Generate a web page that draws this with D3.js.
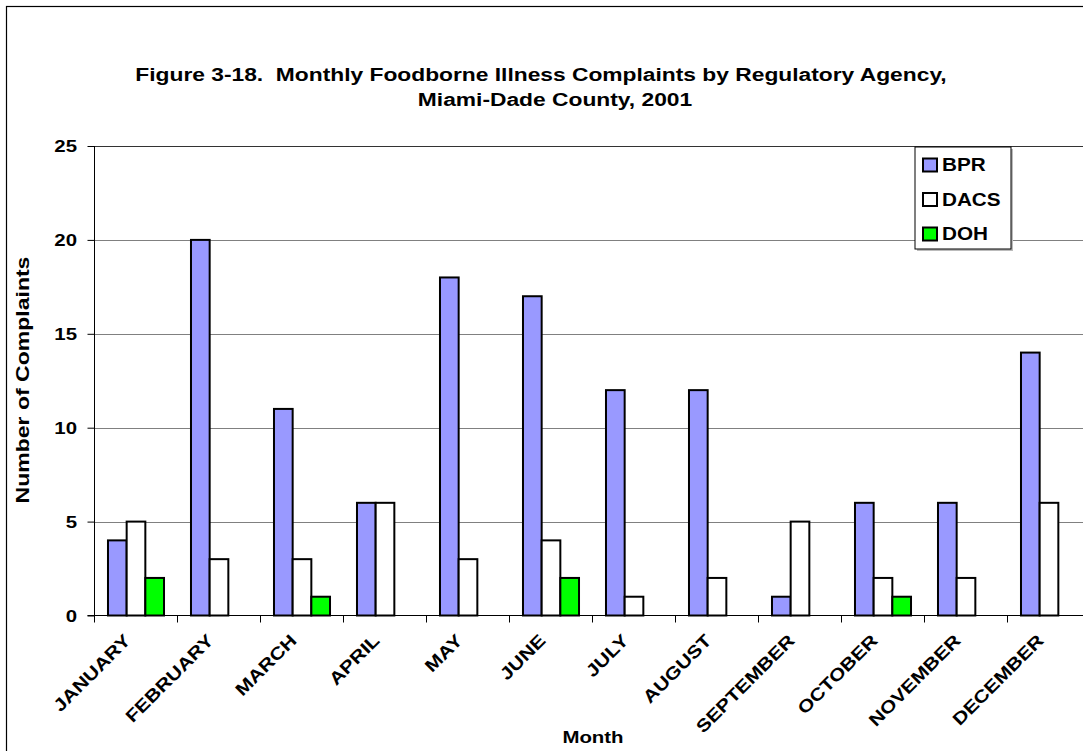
<!DOCTYPE html>
<html>
<head>
<meta charset="utf-8">
<script src="https://cdnjs.cloudflare.com/ajax/libs/d3/7.8.5/d3.min.js"></script>
<style>
  body { margin: 0; background: #fff; }
  text { font-family: Arial, "Liberation Sans", sans-serif; font-weight: bold; fill: #000; white-space: pre; }
</style>
</head>
<body>
<svg id="chart" width="1083" height="751"></svg>
<script>
// data
var months = ['JANUARY', 'FEBRUARY', 'MARCH', 'APRIL', 'MAY', 'JUNE', 'JULY',
  'AUGUST', 'SEPTEMBER', 'OCTOBER', 'NOVEMBER', 'DECEMBER'];
var agencies = ['BPR', 'DACS', 'DOH'];
var bpr = [4, 20, 11, 6, 18, 17, 12, 12, 1, 6, 6, 14];
var dacs = [5, 3, 3, 6, 3, 4, 1, 2, 5, 2, 2, 6];
var doh = [2, 0, 1, 0, 0, 2, 0, 0, 0, 1, 0, 0];
var yTicks = [0, 5, 10, 15, 20, 25];

var colors = {BPR: '#9999ff', DACS: '#ffffff', DOH: '#00ff00'};
var series = {BPR: bpr, DACS: dacs, DOH: doh};

// the original's text renders wider than Liberation Sans, stretch along the baseline
var stretch = 1.2;

var svg = d3.select('#chart');

// outer frame (runs off the right/bottom of the picture)
svg.append('rect')
  .attr('x', 6.5).attr('y', 6.5)
  .attr('width', 1120).attr('height', 800)
  .attr('fill', '#fff').attr('stroke', '#000').attr('stroke-width', 1.2);

// plot area
var plotLeft = 94.5, plotRight = 1090.5, plotTop = 146, plotBottom = 615.5;

var x = d3.scaleBand().domain(months).range([plotLeft, plotRight]).paddingInner(0.325).paddingOuter(0.1625);
var xs = d3.scaleBand().domain(agencies).range([0, x.bandwidth()]);
var y = d3.scaleLinear().domain([0, 25]).range([plotBottom, plotTop]);

function label(sel, px, py, rot, s) {
  return sel.attr('transform', 'translate(' + px + ',' + py + ') rotate(' + rot + ') scale(' + s + ',1)');
}

// title
label(svg.append('text'), 541, 81, 0, 1.2)
  .attr('text-anchor', 'middle')
  .style('font-size', '19px')
  .text('Figure 3-18.  Monthly Foodborne Illness Complaints by Regulatory Agency,');
label(svg.append('text'), 555, 106, 0, 1.2)
  .attr('text-anchor', 'middle')
  .style('font-size', '19px')
  .text('Miami-Dade County, 2001');

// gridlines
svg.append('g').selectAll('line')
  .data(yTicks.filter(function(d) { return d > 0; }))
  .enter().append('line')
  .attr('x1', plotLeft).attr('x2', plotRight)
  .attr('y1', function(d) { return Math.round(y(d)) + 0.5; })
  .attr('y2', function(d) { return Math.round(y(d)) + 0.5; })
  .attr('stroke', function(d) { return d == 25 ? '#333' : '#808080'; })
  .attr('stroke-width', 1.2);

// y axis
var yAxis = d3.axisLeft(y).tickValues(yTicks).tickSize(7).tickFormat('');
var gy = svg.append('g').attr('transform', 'translate(' + plotLeft + ',0)').call(yAxis);
gy.select('.domain').attr('stroke', '#000').attr('d', 'M0,' + plotTop + 'V' + plotBottom);
gy.selectAll('.tick line').attr('stroke', '#000');
svg.append('g').selectAll('text')
  .data(yTicks)
  .enter().append('text')
  .attr('transform', function(d) { return 'translate(77,' + y(d) + ') scale(' + stretch + ',1)'; })
  .attr('text-anchor', 'end')
  .attr('dy', '0.36em')
  .style('font-size', '17px')
  .text(function(d) { return d; });

// x axis: ticks at category boundaries
var gx = svg.append('g');
gx.append('line')
  .attr('x1', plotLeft - 7).attr('x2', plotRight)
  .attr('y1', plotBottom).attr('y2', plotBottom)
  .attr('stroke', '#000');
var step = x.step();
gx.selectAll('line.tk')
  .data(d3.range(months.length + 1))
  .enter().append('line').attr('class', 'tk')
  .attr('x1', function(i) { return plotLeft + i * step; })
  .attr('x2', function(i) { return plotLeft + i * step; })
  .attr('y1', plotBottom).attr('y2', plotBottom + 7)
  .attr('stroke', '#000');

gx.selectAll('text')
  .data(months)
  .enter().append('text')
  .attr('transform', function(d) {
    var cx = x(d) + x.bandwidth() / 2;
    return 'translate(' + (cx - 13) + ',' + 633 + ') rotate(-45) scale(' + stretch + ',1)';
  })
  .attr('text-anchor', 'end')
  .attr('dy', '0.7em')
  .style('font-size', '17.5px')
  .text(function(d) { return d; });

// bars
var groups = svg.append('g').selectAll('g')
  .data(months)
  .enter().append('g')
  .attr('transform', function(d) { return 'translate(' + x(d) + ',0)'; });

groups.selectAll('rect')
  .data(function(d, i) {
    return agencies.map(function(a) { return {agency: a, value: series[a][i]}; });
  })
  .enter().append('rect')
  .filter(function(d) { return d.value > 0; })
  .attr('x', function(d) { return xs(d.agency); })
  .attr('width', xs.bandwidth())
  .attr('y', function(d) { return y(d.value); })
  .attr('height', function(d) { return plotBottom - y(d.value); })
  .attr('fill', function(d) { return colors[d.agency]; })
  .attr('stroke', '#000')
  .attr('stroke-width', 2);

// axis titles
label(svg.append('text'), 29, 380, -90, 1.28)
  .attr('text-anchor', 'middle')
  .style('font-size', '18px')
  .text('Number of Complaints');

label(svg.append('text'), 593, 743, 0, stretch)
  .attr('text-anchor', 'middle')
  .style('font-size', '17px')
  .text('Month');

// legend
var lg = svg.append('g').attr('transform', 'translate(915,147)');
lg.append('rect')
  .attr('x', 2).attr('y', 2).attr('width', 96).attr('height', 102)
  .attr('fill', '#bbb');
lg.append('rect')
  .attr('width', 96).attr('height', 102)
  .attr('fill', '#fff').attr('stroke', '#000');
var items = lg.selectAll('g.item')
  .data(agencies)
  .enter().append('g').attr('class', 'item')
  .attr('transform', function(d, i) { return 'translate(0,' + (18 + i * 34.5) + ')'; });
items.append('rect')
  .attr('x', 8).attr('y', -6.5).attr('width', 14).attr('height', 13)
  .attr('fill', function(d) { return colors[d]; })
  .attr('stroke', '#000').attr('stroke-width', 2);
items.append('text')
  .attr('transform', 'translate(27,0) scale(1.15,1)')
  .attr('dy', '0.36em')
  .style('font-size', '18px')
  .text(function(d) { return d; });
</script>
</body>
</html>
